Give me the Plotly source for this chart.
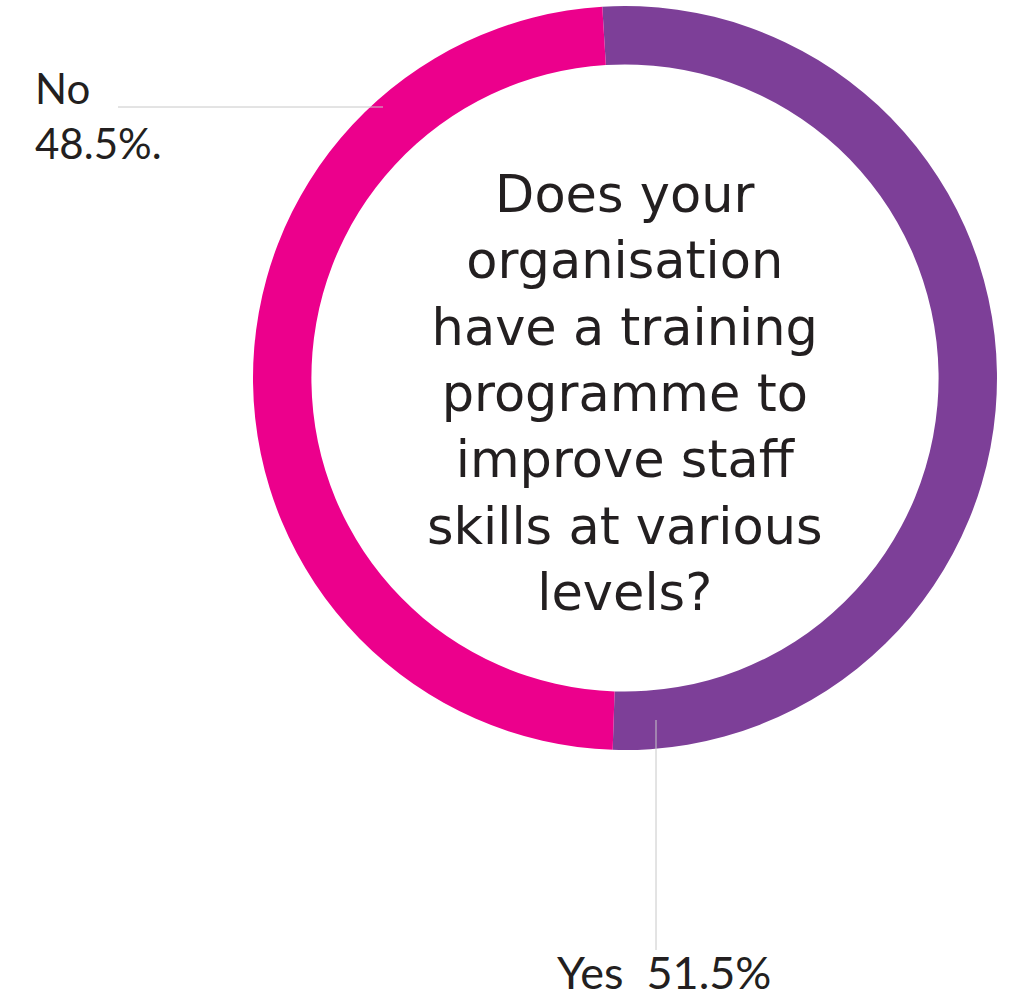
import plotly.graph_objects as go

# Survey answers (Yes first so that "No" runs anticlockwise from 12 o'clock)
answers = ["Yes", "No"]
shares = [51.5, 48.5]
answer_colors = ["#7D3F98", "#EC008C"]
question = "Does your<br>organisation<br>have a training<br>programme to<br>improve staff<br>skills at various<br>levels?"

W, H = 1009, 1002
cx, cy, r = 625, 378, 372  # donut centre / radius in pixels (from top-left)


def px(x):
    return x / W


def py(y):
    return 1 - y / H


fig = go.Figure(
    go.Pie(
        labels=answers,
        values=shares,
        marker=dict(colors=answer_colors, line=dict(width=0)),
        hole=0.843,
        sort=False,
        direction="counterclockwise",
        rotation=-3.5,
        textinfo="none",
        hoverinfo="label+percent",
        domain=dict(x=[px(cx - r), px(cx + r)], y=[py(cy + r), py(cy - r)]),
        showlegend=False,
    )
)

fig.add_annotation(
    x=px(cx), y=py(cy + 15), xref="paper", yref="paper",
    text=question, showarrow=False, align="center",
    font=dict(family="'DejaVu Sans', sans-serif", size=51, color="#231F20"),
)

fig.add_annotation(
    x=px(33), y=py(116), xref="paper", yref="paper", xanchor="left", yanchor="middle",
    text=f"{answers[1]}<br>{shares[1]}%.", showarrow=False, align="left",
    font=dict(family="Lato, 'Open Sans', sans-serif", size=42, color="#231F20"),
)
fig.add_annotation(
    x=px(555), y=py(972), xref="paper", yref="paper", xanchor="left", yanchor="middle",
    text=f"{answers[0]}  {shares[0]}%", showarrow=False, align="left",
    font=dict(family="Lato, 'Open Sans', sans-serif", size=45, color="#231F20"),
)

line_style = dict(color="#C8C8C8", width=1)
fig.add_shape(type="line", xref="paper", yref="paper",
              x0=px(118), x1=px(383), y0=py(107), y1=py(107), line=line_style)
fig.add_shape(type="line", xref="paper", yref="paper",
              x0=px(656), x1=px(656), y0=py(720), y1=py(950), line=line_style)

fig.update_layout(
    width=W, height=H,
    margin=dict(l=0, r=0, t=0, b=0),
    paper_bgcolor="white", plot_bgcolor="white",
)

fig.write_html("out.html")
